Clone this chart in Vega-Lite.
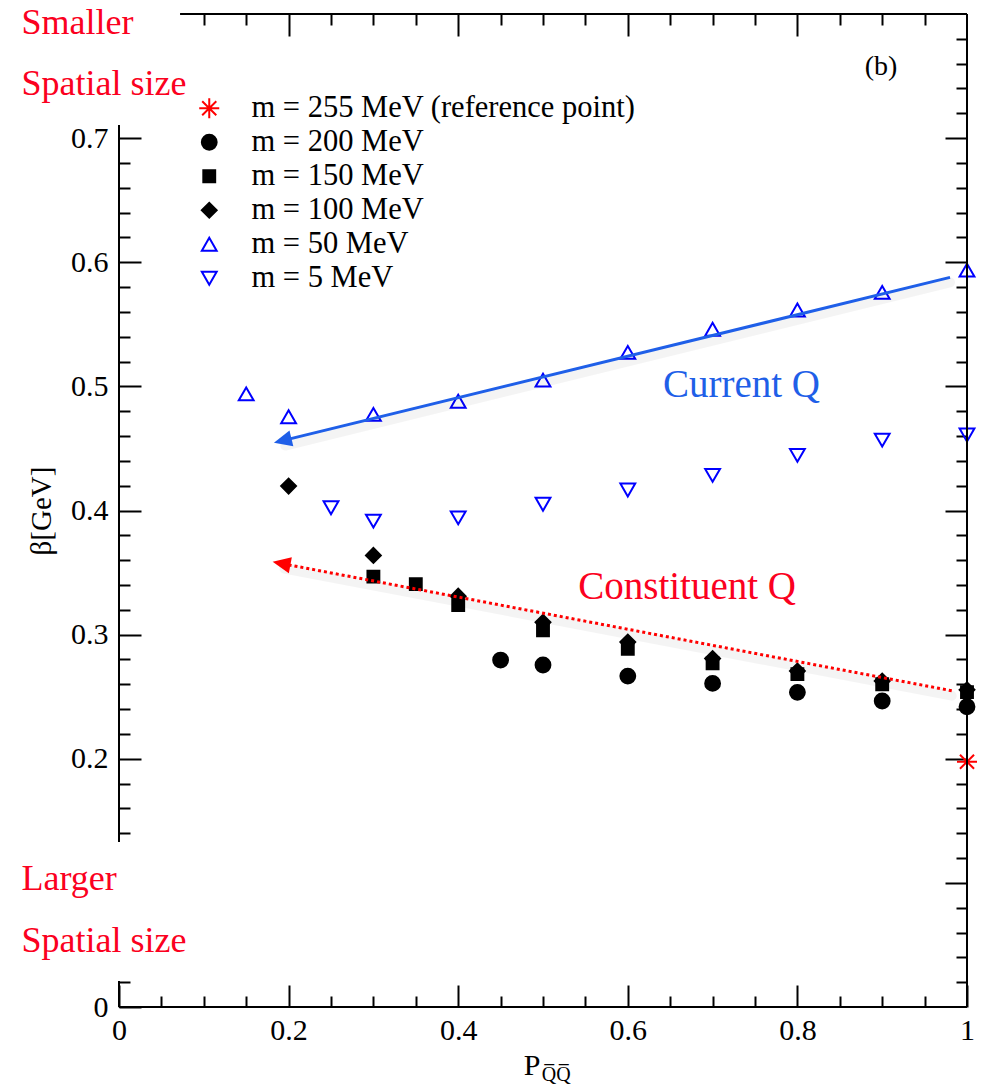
{
  "$schema": "https://vega.github.io/schema/vega-lite/v6.json",
  "width": 848,
  "height": 993,
  "autosize": {"type": "none"},
  "padding": {"left": 119, "top": 14, "right": 23, "bottom": 81},
  "background": "white",
  "data": {"values": [{"note": "annotation"}]},
  "config": {
    "view": {"stroke": null},
    "font": "Liberation Serif",
    "axis": {
      "labelFont": "Liberation Serif",
      "labelFontSize": 30,
      "labelColor": "black",
      "tickColor": "black",
      "tickWidth": 2,
      "domain": false,
      "grid": false,
      "labelFlush": false,
      "labelOverlap": false,
      "labelBound": false
    },
    "legend": {
      "labelFont": "Liberation Serif",
      "labelFontSize": 30.5,
      "labelColor": "black",
      "labelLimit": 600,
      "symbolSize": 220,
      "symbolStrokeWidth": 2,
      "padding": 0,
      "rowPadding": 3,
      "labelOffset": 27
    }
  },
  "resolve": {"axis": {"x": "independent", "y": "independent"}},
  "layer": [
    {
      "data": {
        "values": [
          {"series": "m = 100 MeV", "p": 0.2, "beta": 0.4197},
          {"series": "m = 100 MeV", "p": 0.3, "beta": 0.3638},
          {"series": "m = 100 MeV", "p": 0.4, "beta": 0.331},
          {"series": "m = 100 MeV", "p": 0.5, "beta": 0.31},
          {"series": "m = 100 MeV", "p": 0.6, "beta": 0.294},
          {"series": "m = 100 MeV", "p": 0.7, "beta": 0.2807},
          {"series": "m = 100 MeV", "p": 0.8, "beta": 0.2707},
          {"series": "m = 100 MeV", "p": 0.9, "beta": 0.2626},
          {"series": "m = 100 MeV", "p": 1.0, "beta": 0.2555},
          {"series": "m = 150 MeV", "p": 0.3, "beta": 0.3467},
          {"series": "m = 150 MeV", "p": 0.35, "beta": 0.3407},
          {"series": "m = 150 MeV", "p": 0.4, "beta": 0.3238},
          {"series": "m = 150 MeV", "p": 0.5, "beta": 0.3034},
          {"series": "m = 150 MeV", "p": 0.6, "beta": 0.2886},
          {"series": "m = 150 MeV", "p": 0.7, "beta": 0.2768},
          {"series": "m = 150 MeV", "p": 0.8, "beta": 0.2682},
          {"series": "m = 150 MeV", "p": 0.9, "beta": 0.26},
          {"series": "m = 150 MeV", "p": 1.0, "beta": 0.2537},
          {"series": "m = 200 MeV", "p": 0.45, "beta": 0.2795},
          {"series": "m = 200 MeV", "p": 0.5, "beta": 0.2755},
          {"series": "m = 200 MeV", "p": 0.6, "beta": 0.2666},
          {"series": "m = 200 MeV", "p": 0.7, "beta": 0.2607},
          {"series": "m = 200 MeV", "p": 0.8, "beta": 0.2535},
          {"series": "m = 200 MeV", "p": 0.9, "beta": 0.2465},
          {"series": "m = 200 MeV", "p": 1.0, "beta": 0.2419},
          {"series": "m = 50 MeV", "p": 0.15, "beta": 0.494},
          {"series": "m = 50 MeV", "p": 0.2, "beta": 0.4755},
          {"series": "m = 50 MeV", "p": 0.3, "beta": 0.4774},
          {"series": "m = 50 MeV", "p": 0.4, "beta": 0.488},
          {"series": "m = 50 MeV", "p": 0.5, "beta": 0.505},
          {"series": "m = 50 MeV", "p": 0.6, "beta": 0.5274},
          {"series": "m = 50 MeV", "p": 0.7, "beta": 0.546},
          {"series": "m = 50 MeV", "p": 0.8, "beta": 0.5615},
          {"series": "m = 50 MeV", "p": 0.9, "beta": 0.5757},
          {"series": "m = 50 MeV", "p": 1.0, "beta": 0.5937},
          {"series": "m = 5 MeV", "p": 0.25, "beta": 0.4022},
          {"series": "m = 5 MeV", "p": 0.3, "beta": 0.3915},
          {"series": "m = 5 MeV", "p": 0.4, "beta": 0.394},
          {"series": "m = 5 MeV", "p": 0.5, "beta": 0.405},
          {"series": "m = 5 MeV", "p": 0.6, "beta": 0.4165},
          {"series": "m = 5 MeV", "p": 0.7, "beta": 0.4283},
          {"series": "m = 5 MeV", "p": 0.8, "beta": 0.4444},
          {"series": "m = 5 MeV", "p": 0.9, "beta": 0.4567},
          {"series": "m = 5 MeV", "p": 1.0, "beta": 0.4608},
          {"series": "m = 255 MeV (reference point)", "p": 1.0, "beta": 0.1976}
        ]
      },
      "mark": {"type": "point", "opacity": 1, "strokeWidth": 2, "size": 220, "clip": false},
      "encoding": {
        "x": {
          "field": "p", "type": "quantitative",
          "scale": {"domain": [0, 1], "nice": false, "zero": false},
          "axis": {
            "orient": "bottom",
            "title": null,
            "values": [0, 0.05, 0.1, 0.15, 0.2, 0.25, 0.3, 0.35, 0.4, 0.45, 0.5, 0.55, 0.6, 0.65, 0.7, 0.75, 0.8, 0.85, 0.9, 0.95, 1],
            "tickSize": {"condition": {"test": "abs(datum.value*5-round(datum.value*5))<0.001", "value": -22}, "value": -11},
            "labelExpr": "abs(datum.value*5-round(datum.value*5))<0.001 ? format(datum.value,'.1~f') : ''",
            "labelPadding": 30
          }
        },
        "y": {
          "field": "beta", "type": "quantitative",
          "scale": {"domain": [0, 0.8], "nice": false, "zero": false},
          "axis": {
            "orient": "left",
            "title": "β[GeV]",
            "titleFont": "Liberation Serif",
            "titleFontSize": 29,
            "titleFontWeight": "normal",
            "titleColor": "black",
            "titlePadding": 14,
            "values": [0, 0.02, 0.14, 0.16, 0.18, 0.2, 0.22, 0.24, 0.26, 0.28, 0.3, 0.32, 0.34, 0.36, 0.38, 0.4, 0.42, 0.44, 0.46, 0.48, 0.5, 0.52, 0.54, 0.56, 0.58, 0.6, 0.62, 0.64, 0.66, 0.68, 0.7],
            "tickSize": {"condition": {"test": "abs(datum.value*10-round(datum.value*10))<0.001", "value": -22}, "value": -11},
            "labelExpr": "abs(datum.value*10-round(datum.value*10))<0.001 ? format(datum.value,'.1~f') : ''",
            "labelPadding": 33
          }
        },
        "shape": {
          "field": "series", "type": "nominal",
          "scale": {
            "domain": ["m = 255 MeV (reference point)", "m = 200 MeV", "m = 150 MeV", "m = 100 MeV", "m = 50 MeV", "m = 5 MeV"],
            "range": ["M0,-1.35L0,1.35M-1.35,0L1.35,0M-0.95,-0.95L0.95,0.95M-0.95,0.95L0.95,-0.95", "circle", "M-0.8,-0.8L0.8,-0.8L0.8,0.8L-0.8,0.8Z", "diamond", "triangle-up", "triangle-down"]
          },
          "legend": {"orient": "none", "legendX": 75, "legendY": 79, "title": null}
        },
        "fill": {
          "field": "series", "type": "nominal",
          "scale": {
            "domain": ["m = 255 MeV (reference point)", "m = 200 MeV", "m = 150 MeV", "m = 100 MeV", "m = 50 MeV", "m = 5 MeV"],
            "range": ["transparent", "black", "black", "black", "transparent", "transparent"]
          },
          "legend": {"orient": "none", "legendX": 75, "legendY": 79, "title": null}
        },
        "stroke": {
          "field": "series", "type": "nominal",
          "scale": {
            "domain": ["m = 255 MeV (reference point)", "m = 200 MeV", "m = 150 MeV", "m = 100 MeV", "m = 50 MeV", "m = 5 MeV"],
            "range": ["#ff0000", "black", "black", "black", "#0000ff", "#0000ff"]
          },
          "legend": {"orient": "none", "legendX": 75, "legendY": 79, "title": null}
        }
      }
    },
    {
      "mark": {"type": "rule", "color": "black", "strokeWidth": 2, "clip": false},
      "encoding": {
        "x": {
          "datum": 0.072, "type": "quantitative",
          "axis": {
            "orient": "top",
            "title": null,
            "labels": false,
            "values": [0.1, 0.15, 0.2, 0.25, 0.3, 0.35, 0.4, 0.45, 0.5, 0.55, 0.6, 0.65, 0.7, 0.75, 0.8, 0.85, 0.9, 0.95],
            "tickSize": {"condition": {"test": "abs(datum.value*5-round(datum.value*5))<0.001", "value": -22}, "value": -11}
          }
        },
        "x2": {"datum": 1},
        "y": {
          "datum": 0.8, "type": "quantitative",
          "axis": {
            "orient": "right",
            "title": null,
            "labels": false,
            "values": [0.02, 0.04, 0.06, 0.08, 0.1, 0.12, 0.14, 0.16, 0.18, 0.2, 0.22, 0.24, 0.26, 0.28, 0.3, 0.32, 0.34, 0.36, 0.38, 0.4, 0.42, 0.44, 0.46, 0.48, 0.5, 0.52, 0.54, 0.56, 0.58, 0.6, 0.62, 0.64, 0.66, 0.68, 0.7, 0.72, 0.74, 0.76, 0.78],
            "tickSize": {"condition": {"test": "abs(datum.value*10-round(datum.value*10))<0.001", "value": -22}, "value": -11}
          }
        }
      }
    },
    {
      "mark": {"type": "rule", "color": "black", "strokeWidth": 2, "clip": false},
      "encoding": {
        "x": {"datum": 0, "type": "quantitative", "axis": null},
        "x2": {"datum": 1},
        "y": {"datum": 0, "type": "quantitative", "axis": null}
      }
    },
    {
      "mark": {"type": "rule", "color": "black", "strokeWidth": 2, "clip": false},
      "encoding": {
        "x": {"datum": 1, "type": "quantitative", "axis": null},
        "y": {"datum": 0, "type": "quantitative", "axis": null},
        "y2": {"datum": 0.8}
      }
    },
    {
      "mark": {"type": "rule", "color": "black", "strokeWidth": 2, "clip": false},
      "encoding": {
        "x": {"datum": 0, "type": "quantitative", "axis": null},
        "y": {"datum": 0.133, "type": "quantitative", "axis": null},
        "y2": {"datum": 0.7105}
      }
    },
    {
      "mark": {"type": "rule", "color": "black", "strokeWidth": 2, "clip": false},
      "encoding": {
        "x": {"datum": 0, "type": "quantitative", "axis": null},
        "y": {"datum": 0, "type": "quantitative", "axis": null},
        "y2": {"datum": 0.021}
      }
    },
    {
      "mark": {"type": "rule", "color": "black", "opacity": 0.045, "strokeWidth": 10, "strokeCap": "round", "clip": false},
      "encoding": {
        "x": {"datum": 0.98, "type": "quantitative", "axis": null},
        "y": {"datum": 0.5838, "type": "quantitative", "axis": null},
        "x2": {"datum": 0.196},
        "y2": {"datum": 0.4523}
      }
    },
    {
      "mark": {"type": "rule", "color": "black", "opacity": 0.045, "strokeWidth": 10, "strokeCap": "round", "clip": false},
      "encoding": {
        "x": {"datum": 0.982, "type": "quantitative", "axis": null},
        "y": {"datum": 0.2508, "type": "quantitative", "axis": null},
        "x2": {"datum": 0.195},
        "y2": {"datum": 0.3533}
      }
    },
    {
      "mark": {"type": "rule", "color": "#1f5fe8", "strokeWidth": 3, "clip": false},
      "encoding": {
        "x": {"datum": 0.98, "type": "quantitative", "axis": null},
        "y": {"datum": 0.5878, "type": "quantitative", "axis": null},
        "x2": {"datum": 0.193},
        "y2": {"datum": 0.4563}
      }
    },
    {
      "mark": {"type": "point", "shape": "M-1,0L1,-0.9L1,0.9Z", "size": 324, "angle": 346.25, "filled": true, "color": "#1f5fe8", "opacity": 1, "strokeWidth": 0, "clip": false},
      "encoding": {
        "x": {"datum": 0.193, "type": "quantitative", "axis": null},
        "y": {"datum": 0.4563, "type": "quantitative", "axis": null}
      }
    },
    {
      "mark": {"type": "rule", "color": "#ff0000", "strokeWidth": 3, "strokeDash": [3, 3], "clip": false},
      "encoding": {
        "x": {"datum": 0.982, "type": "quantitative", "axis": null},
        "y": {"datum": 0.2548, "type": "quantitative", "axis": null},
        "x2": {"datum": 0.1916},
        "y2": {"datum": 0.3573}
      }
    },
    {
      "mark": {"type": "point", "shape": "M-1,0L1,-0.9L1,0.9Z", "size": 324, "angle": 10.76, "filled": true, "color": "#ff0000", "opacity": 1, "strokeWidth": 0, "clip": false},
      "encoding": {
        "x": {"datum": 0.1916, "type": "quantitative", "axis": null},
        "y": {"datum": 0.3573, "type": "quantitative", "axis": null}
      }
    },
    {
      "mark": {"type": "text", "font": "Liberation Serif", "fontSize": 36, "color": "#fb0020", "align": "left", "baseline": "alphabetic", "clip": false},
      "encoding": {
        "x": {"datum": -0.115, "type": "quantitative", "axis": null},
        "y": {"datum": 0.7838, "type": "quantitative", "axis": null},
        "text": {"value": "Smaller"}
      }
    },
    {
      "mark": {"type": "text", "font": "Liberation Serif", "fontSize": 36, "color": "#fb0020", "align": "left", "baseline": "alphabetic", "clip": false},
      "encoding": {
        "x": {"datum": -0.115, "type": "quantitative", "axis": null},
        "y": {"datum": 0.7347, "type": "quantitative", "axis": null},
        "text": {"value": "Spatial size"}
      }
    },
    {
      "mark": {"type": "text", "font": "Liberation Serif", "fontSize": 36, "color": "#fb0020", "align": "left", "baseline": "alphabetic", "clip": false},
      "encoding": {
        "x": {"datum": -0.115, "type": "quantitative", "axis": null},
        "y": {"datum": 0.0942, "type": "quantitative", "axis": null},
        "text": {"value": "Larger"}
      }
    },
    {
      "mark": {"type": "text", "font": "Liberation Serif", "fontSize": 36, "color": "#fb0020", "align": "left", "baseline": "alphabetic", "clip": false},
      "encoding": {
        "x": {"datum": -0.115, "type": "quantitative", "axis": null},
        "y": {"datum": 0.0446, "type": "quantitative", "axis": null},
        "text": {"value": "Spatial size"}
      }
    },
    {
      "mark": {"type": "text", "font": "Liberation Serif", "fontSize": 39, "color": "#1f5fe8", "align": "left", "baseline": "alphabetic", "clip": false},
      "encoding": {
        "x": {"datum": 0.6415, "type": "quantitative", "axis": null},
        "y": {"datum": 0.4916, "type": "quantitative", "axis": null},
        "text": {"value": "Current Q"}
      }
    },
    {
      "mark": {"type": "text", "font": "Liberation Serif", "fontSize": 39, "color": "#fb0020", "align": "left", "baseline": "alphabetic", "clip": false},
      "encoding": {
        "x": {"datum": 0.5415, "type": "quantitative", "axis": null},
        "y": {"datum": 0.329, "type": "quantitative", "axis": null},
        "text": {"value": "Constituent Q"}
      }
    },
    {
      "mark": {"type": "text", "font": "Liberation Serif", "fontSize": 28, "color": "black", "align": "center", "baseline": "middle", "clip": false},
      "encoding": {
        "x": {"datum": 0.8986, "type": "quantitative", "axis": null},
        "y": {"datum": 0.757, "type": "quantitative", "axis": null},
        "text": {"value": "(b)"}
      }
    },
    {
      "mark": {"type": "text", "font": "Liberation Serif", "fontSize": 30, "color": "black", "align": "right", "baseline": "alphabetic", "clip": false},
      "encoding": {
        "x": {"datum": 0.497, "type": "quantitative", "axis": null},
        "y": {"datum": -0.0548, "type": "quantitative", "axis": null},
        "text": {"value": "P"}
      }
    },
    {
      "mark": {"type": "text", "font": "Liberation Serif", "fontSize": 20, "color": "black", "align": "left", "baseline": "alphabetic", "clip": false},
      "encoding": {
        "x": {"datum": 0.4985, "type": "quantitative", "axis": null},
        "y": {"datum": -0.0596, "type": "quantitative", "axis": null},
        "text": {"value": "Q̅Q̅"}
      }
    }
  ]
}
